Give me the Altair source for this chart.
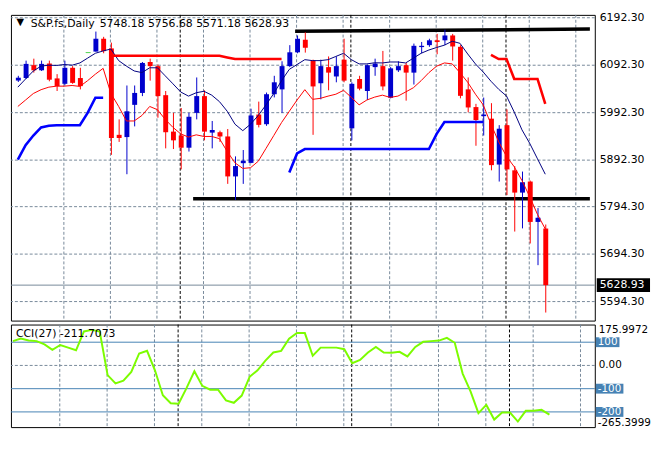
import altair as alt
import numpy as np
import pandas as pd

FONT = "DejaVu Sans"
GRID = "#778899"

# ---------------- data ----------------
opens = [6060.0, 6065.3, 6092.4, 6081.6, 6095.9, 6064.5, 6053.1, 6086.9, 6065.3, 6118.9,
         6121.0, 6148.1, 6127.7, 5945.6, 5940.9, 6008.8, 6033.9, 6099.1, 6090.4, 6029.2,
         5952.4, 5944.2, 5918.5, 5991.9, 6027.2, 5950.3, 5951.1, 5942.2, 5858.0, 5885.9,
         5886.5, 5988.4, 5968.0, 6031.2, 6041.4, 6090.4, 6119.5, 6146.0, 6102.6, 6054.3,
         6088.3, 6068.6, 6104.0, 5959.3, 6063.3, 6038.0, 6088.3, 6090.4, 6023.7, 6081.6,
         6092.4, 6076.7, 6130.5, 6134.6, 6144.8, 6144.8, 6155.0, 6131.1, 6041.4, 6004.1,
         5985.0, 5979.7, 5883.0, 5966.0, 5870.8, 5823.9, 5847.2, 5762.1, 5748.18]
highs = [6070.0, 6102.0, 6106.1, 6102.0, 6102.0, 6073.5, 6102.0, 6090.4, 6086.9, 6118.9,
         6163.2, 6152.1, 6139.9, 5978.2, 6049.6, 6049.6, 6099.1, 6106.1, 6093.8, 6038.0,
         5991.9, 6002.1, 5991.9, 6066.5, 6039.4, 5974.8, 5954.4, 5957.9, 5900.2, 5913.6,
         6000.7, 6015.6, 6034.7, 6070.0, 6100.6, 6134.6, 6155.0, 6161.7, 6104.0, 6104.0,
         6110.8, 6110.8, 6148.1, 6056.3, 6070.0, 6093.8, 6106.1, 6122.4, 6088.3, 6100.6,
         6097.1, 6137.9, 6141.3, 6148.1, 6158.3, 6167.2, 6158.3, 6134.6, 6066.5, 6010.9,
         6024.1, 6012.3, 5966.0, 5999.2, 5879.8, 5868.2, 5849.2, 5791.3, 5756.68]
lows = [6057.0, 6063.3, 6076.7, 6080.2, 6058.4, 6038.0, 6049.6, 6053.1, 6041.4, 6118.9,
        6121.0, 6117.5, 5903.4, 5930.7, 5862.6, 5963.4, 6027.2, 6059.8, 5981.7, 5917.1,
        5915.7, 5872.8, 5910.4, 5978.2, 5934.0, 5917.1, 5930.7, 5842.3, 5808.4, 5842.3,
        5885.9, 5961.3, 5964.6, 6024.5, 5991.9, 6088.3, 6117.5, 6118.9, 5945.6, 6020.4,
        6039.4, 6056.3, 6056.3, 5934.0, 6039.4, 6019.0, 6070.0, 6039.4, 6022.5, 6078.1,
        6017.6, 6051.6, 6117.5, 6131.1, 6115.4, 6134.6, 6102.0, 6022.5, 5993.1, 5922.6,
        5944.2, 5870.8, 5847.2, 5818.6, 5741.8, 5748.5, 5716.7, 5671.0, 5571.18]
closes = [6066.0, 6095.1, 6081.6, 6095.1, 6061.8, 6048.2, 6086.9, 6055.1, 6048.2, 6118.9,
          6148.1, 6122.0, 5938.9, 5938.9, 5995.2, 6033.9, 6097.1, 6090.4, 6027.2, 5951.1,
          5934.0, 5918.5, 5983.7, 6027.2, 5952.4, 5955.8, 5942.2, 5858.0, 5879.8, 5891.2,
          5986.4, 5966.6, 6031.2, 6056.3, 6090.4, 6119.5, 6148.1, 6129.1, 6047.6, 6090.4,
          6076.7, 6090.4, 6059.8, 6053.1, 6042.9, 6092.4, 6095.9, 6047.6, 6085.7, 6090.4,
          6076.7, 6133.2, 6133.2, 6144.8, 6141.3, 6155.0, 6131.8, 6027.8, 6003.3, 5976.8,
          5988.4, 5881.8, 5958.5, 5872.8, 5823.9, 5845.7, 5762.1, 5770.9, 5628.93]

upper_band = [6046.1, 6063.3, 6080.2, 6090.4, 6092.4, 6091.8, 6093.8, 6092.4, 6097.1, 6107.3,
              6117.5, 6122.4, 6126.5, 6102.0, 6090.4, 6080.2, 6076.7, 6086.9, 6086.9, 6070.0,
              6053.1, 6035.9, 6027.2, 6034.3, 6037.4, 6029.2, 6015.5, 5995.2, 5968.0, 5954.4,
              5968.0, 5986.4, 6008.8, 6032.7, 6059.8, 6083.6, 6093.8, 6104.0, 6102.0, 6102.0,
              6104.0, 6110.8, 6117.5, 6104.0, 6095.1, 6095.1, 6097.5, 6097.1, 6099.1, 6099.1,
              6097.1, 6107.3, 6117.5, 6124.4, 6129.7, 6134.6, 6142.8, 6138.5, 6116.0, 6095.0,
              6078.0, 6058.5, 6041.5, 6027.5, 5993.5, 5956.0, 5927.5, 5895.0, 5862.6]
lower_band = [6005.4, 6019.0, 6032.7, 6040.8, 6046.1, 6048.2, 6048.2, 6049.6, 6047.6, 6059.8,
              6073.5, 6085.7, 6032.7, 6005.4, 5974.8, 5974.8, 5986.4, 6005.4, 5998.6, 5978.2,
              5961.3, 5947.7, 5940.9, 5945.6, 5942.2, 5942.2, 5937.5, 5910.4, 5886.5, 5874.9,
              5876.3, 5890.0, 5917.1, 5944.2, 5971.5, 5995.2, 6019.0, 6040.8, 6020.4, 6022.5,
              6027.2, 6031.2, 6039.4, 6024.5, 6008.8, 6019.0, 6025.1, 6029.2, 6024.5, 6027.2,
              6035.9, 6044.9, 6059.8, 6076.7, 6090.4, 6097.1, 6095.1, 6076.7, 6056.3, 6031.2,
              6008.8, 5968.0, 5930.7, 5900.2, 5878.3, 5849.2, 5815.1, 5777.8, 5747.3]

blue_stop_a_bars = list(range(0, 12))
blue_stop_a = [5893.2, 5923.8, 5944.2, 5961.3, 5964.6, 5966.0, 5966.0, 5966.0, 5966.0, 5991.9,
               6023.7, 6023.7]
blue_stop_b_bars = list(range(35, 61))
blue_stop_b = [5866.1, 5906.3, 5915.7, 5915.7, 5915.7, 5915.7, 5915.7, 5915.7, 5915.7, 5915.7,
               5915.7, 5915.7, 5915.7, 5915.7, 5915.7, 5915.7, 5915.7, 5915.7, 5915.7, 5947.7,
               5972.5, 5972.5, 5972.5, 5972.5, 5972.5, 5972.5]
red_stop_a_bars = list(range(12, 35))
red_stop_a = [6112.2, 6112.2, 6112.2, 6112.2, 6112.2, 6112.2, 6112.2, 6112.2, 6112.2, 6112.2,
              6112.2, 6112.2, 6112.2, 6112.2, 6112.2, 6108.7, 6105.3, 6105.3, 6105.3, 6105.3,
              6105.3, 6105.3, 6105.3]
red_stop_b_bars = list(range(61, 69))
red_stop_b = [6114.2, 6105.3, 6105.3, 6063.3, 6063.3, 6063.3, 6063.3, 6010.9]

cci = [104.6, 115.5, 107.0, 104.6, 90.4, 67.0, 87.9, 76.6, 65.3, 146.4,
       153.0, 146.0, -41.8, -77.0, -65.7, -28.0, 51.5, 62.8, -21.0, -128.5,
       -163.0, -164.8, -97.9, -25.0, -87.9, -104.6, -104.6, -150.6, -160.7, -129.7,
       -49.0, -21.0, 21.0, 55.6, 62.8, 115.5, 139.3, 139.3, 41.8, 76.6,
       76.6, 76.6, 70.0, 9.6, 23.4, 55.6, 79.5, 55.6, 54.4, 58.6,
       38.9, 79.5, 101.7, 104.6, 107.0, 118.4, 97.5, -35.0, -111.7, -205.0,
       -170.0, -233.0, -202.5, -202.5, -241.4, -195.4, -195.4, -191.2, -211.7073]

# drawn horizontal / trend lines: start bar, end bar, start price, end price
trend_x1 = [35.75, 22.6]
trend_x2 = [73.75, 73.75]
trend_y1 = [6163.8, 5811.1]
trend_y2 = [6168.5, 5811.1]

price_levels = [6192.3, 6092.3, 5992.3, 5892.3, 5794.3, 5694.3, 5594.3]
grid_bars = [6, 12, 18, 24, 30, 36, 42, 48, 54, 60, 66, 72]
month_sep_bars = [21, 43, 63]
label_bars = [0, 12, 24, 36, 48, 60]
date_labels = ["3 Dec 2024", "18 Dec 2024", "7 Jan 2025", "23 Jan 2025", "10 Feb 2025", "26 Feb 2025"]
cci_levels = [100, -100, -200]
cci_level_text = ["100", "-100", "-200"]
cci_max, cci_min = 175.9972, -265.3999
symbol_text = "S&P.fs,Daily"
ohlc_text = "5748.18 5756.68 5571.18 5628.93"
cci_title = "CCI(27) -211.7073"
last_close = 5628.93

# ---------------- layout ----------------
W, H1, H2 = 592, 310, 104
xs = alt.Scale(domain=[-0.25, 73.75], nice=False, zero=False)
ys = alt.Scale(domain=[5554.2, 6198.4], nice=False, zero=False)
cs = alt.Scale(domain=[cci_min, cci_max], nice=False, zero=False)
PX1 = (6198.4 - 5554.2) / H1   # price units per pixel
PX2 = (cci_max - cci_min) / H2

n = len(opens)
cdf = pd.DataFrame({"bar": range(n), "open": opens, "high": highs, "low": lows, "close": closes})
cdf["dir"] = np.select([cdf.close > cdf.open, cdf.close < cdf.open], ["up", "down"], "doji")

colr = alt.Color("dir:N", scale=alt.Scale(domain=["up", "down", "doji"],
                                          range=["#0000CD", "#FF0000", "#00C000"]), legend=None)


def X(f="bar"):
    return alt.X(f"{f}:Q", scale=xs, axis=None)


def Y(f, s=ys):
    return alt.Y(f"{f}:Q", scale=s, axis=None)


def txt(df, **kw):
    base = dict(font=FONT, fontSize=11, align="left", baseline="middle", color="black")
    base.update(kw)
    return alt.Chart(df).mark_text(**base)


pl_df = pd.DataFrame({"v": price_levels})
hgrid = alt.Chart(pl_df).mark_rule(color=GRID, strokeDash=[3, 2], strokeWidth=1).encode(y=Y("v"))
ylabels = txt(pl_df).transform_calculate(t="format(datum.v, '.2f')").encode(
    x=alt.value(W + 5), y=Y("v"), text="t:N")

gdf = pd.DataFrame({"b": grid_bars})
vgrid = alt.Chart(gdf).mark_rule(color=GRID, strokeDash=[3, 2], strokeWidth=1, xOffset=-0.5).encode(x=X("b"))
sdf = pd.DataFrame({"b": month_sep_bars})
seps = alt.Chart(sdf).mark_rule(color="black", strokeDash=[3, 2], strokeWidth=1, xOffset=-0.5).encode(x=X("b"))

price_line = alt.Chart(pd.DataFrame({"v": [last_close]})).mark_rule(color=GRID, strokeWidth=1).encode(y=Y("v"))

tdf = pd.DataFrame({"x1": trend_x1, "x2": trend_x2, "y1": trend_y1, "y2": trend_y2})
trends = alt.Chart(tdf).mark_rule(color="black", strokeWidth=3.5).encode(
    x=X("x1"), x2="x2:Q", y=Y("y1"), y2="y2:Q")

bar_all = list(range(n))
upper_line = alt.Chart(pd.DataFrame({"bar": bar_all, "v": upper_band})).mark_line(
    strokeWidth=1, color="#000080").encode(x=X(), y=Y("v"))
lower_line = alt.Chart(pd.DataFrame({"bar": bar_all, "v": lower_band})).mark_line(
    strokeWidth=1, color="#FF0000").encode(x=X(), y=Y("v"))

blue_df = pd.DataFrame({"bar": blue_stop_a_bars + blue_stop_b_bars, "v": blue_stop_a + blue_stop_b,
                        "seg": ["a"] * len(blue_stop_a) + ["b"] * len(blue_stop_b)})
red_df = pd.DataFrame({"bar": red_stop_a_bars + red_stop_b_bars, "v": red_stop_a + red_stop_b,
                       "seg": ["a"] * len(red_stop_a) + ["b"] * len(red_stop_b)})
blue_stop = alt.Chart(blue_df).mark_line(strokeWidth=2.6, color="#0000FF").encode(x=X(), y=Y("v"), detail="seg:N")
red_stop = alt.Chart(red_df).mark_line(strokeWidth=2.6, color="#FF0000").encode(x=X(), y=Y("v"), detail="seg:N")

cbase = alt.Chart(cdf)
wicks = cbase.mark_rule(strokeWidth=1, xOffset=0.5).encode(x=X(), y=Y("low"), y2="high:Q", color=colr)
bodies = cbase.transform_filter("datum.dir != 'doji'").mark_bar(size=5, orient="vertical", xOffset=0.5).encode(
    x=X(), y=Y("open"), y2="close:Q", color=colr)
doji = cbase.transform_filter("datum.dir == 'doji'").mark_tick(
    orient="horizontal", size=5, thickness=1, xOffset=0.5).encode(x=X(), y=Y("close"), color=colr)

tri = txt(pd.DataFrame({"t": ["▼"]}), fontSize=10, align="center").encode(
    x=alt.value(9.5), y=alt.value(7), text="t:N")
sym = txt(pd.DataFrame({"t": [symbol_text]})).encode(x=alt.value(20), y=alt.value(9), text="t:N")
ohlc = txt(pd.DataFrame({"t": [ohlc_text]})).encode(x=alt.value(90), y=alt.value(9), text="t:N")

lc_df = pd.DataFrame({"v": [last_close]})
pbox = alt.Chart(lc_df).transform_calculate(
    hi=f"datum.v + {7 * PX1}", lo=f"datum.v - {7 * PX1}").mark_rect(color="black").encode(
    x=alt.value(W + 2), x2=alt.value(W + 56), y=Y("hi"), y2="lo:Q")
ptext = txt(lc_df, color="white").transform_calculate(t="format(datum.v, '.2f')").encode(
    x=alt.value(W + 5), y=Y("v"), text="t:N")

main = alt.layer(hgrid, vgrid, seps, price_line, trends, wicks, bodies, doji,
                 upper_line, lower_line, blue_stop, red_stop,
                 tri, sym, ohlc, ylabels, pbox, ptext).properties(width=W, height=H1)

# ---------------- CCI panel ----------------
expr = "''"
for b, t in reversed(list(zip(label_bars, date_labels))):
    expr = f"datum.value == {b} ? '{t}' : ({expr})"

ccidf = pd.DataFrame({"bar": bar_all, "cci": cci})
cci_line = alt.Chart(ccidf).mark_line(color="#7CFC00", strokeWidth=2).encode(
    x=alt.X("bar:Q", scale=xs, axis=alt.Axis(values=label_bars, labelExpr=expr, labelAlign="left",
                                            labelFlush=False, labelOverlap=False, labelBound=False,
                                            ticks=False, domain=False, grid=False, title=None,
                                            labelFont=FONT, labelFontSize=11, labelColor="black",
                                            labelPadding=4, labelOffset=-1)),
    y=Y("cci", cs))
zero = alt.Chart(pd.DataFrame({"v": [0]})).mark_rule(color=GRID, strokeDash=[3, 2], strokeWidth=1).encode(y=Y("v", cs))
lvl = alt.Chart(pd.DataFrame({"v": cci_levels})).mark_rule(color="#4682B4", strokeWidth=1).encode(y=Y("v", cs))
vgrid2 = alt.Chart(gdf).mark_rule(color=GRID, strokeDash=[3, 2], strokeWidth=1, xOffset=-0.5).encode(x=X("b"))
seps2 = alt.Chart(sdf).mark_rule(color="black", strokeDash=[3, 2], strokeWidth=1, xOffset=-0.5).encode(x=X("b"))

cci_lbl = txt(pd.DataFrame({"t": [cci_title]})).encode(x=alt.value(5), y=alt.value(10), text="t:N")

right = []
right.append(txt(pd.DataFrame({"v": [cci_max], "t": ["175.9972"]}), fontSize=10.5, dy=6).encode(
    x=alt.value(W + 4), y=Y("v", cs), text="t:N"))
right.append(txt(pd.DataFrame({"v": [0], "t": ["0.00"]}), fontSize=10.5).encode(
    x=alt.value(W + 4), y=Y("v", cs), text="t:N"))
for v, t, w in zip(cci_levels, cci_level_text, [24, 28, 28]):
    right.append(alt.Chart(pd.DataFrame({"v": [v]})).transform_calculate(
        hi=f"datum.v + {5 * PX2}", lo=f"datum.v - {5 * PX2}").mark_rect(color="#4682B4").encode(
        x=alt.value(W + 1), x2=alt.value(W + 1 + w), y=Y("hi", cs), y2="lo:Q"))
    right.append(txt(pd.DataFrame({"v": [v], "t": [t]}), fontSize=10.5, color="white").encode(
        x=alt.value(W + 3), y=Y("v", cs), text="t:N"))
right.append(txt(pd.DataFrame({"v": [cci_min], "t": ["-265.3999"]}), fontSize=10.5, dy=-4).encode(
    x=alt.value(W + 3), y=Y("v", cs), text="t:N"))

sub = alt.layer(vgrid2, seps2, zero, lvl, cci_line, cci_lbl, *right).properties(width=W, height=H2)

chart = alt.vconcat(main, sub, spacing=2).properties(padding=0, background="white").configure_view(
    stroke="black", strokeWidth=1).configure_concat(spacing=2)

chart.save("out.html", embed_options={"renderer": "svg", "actions": False})
